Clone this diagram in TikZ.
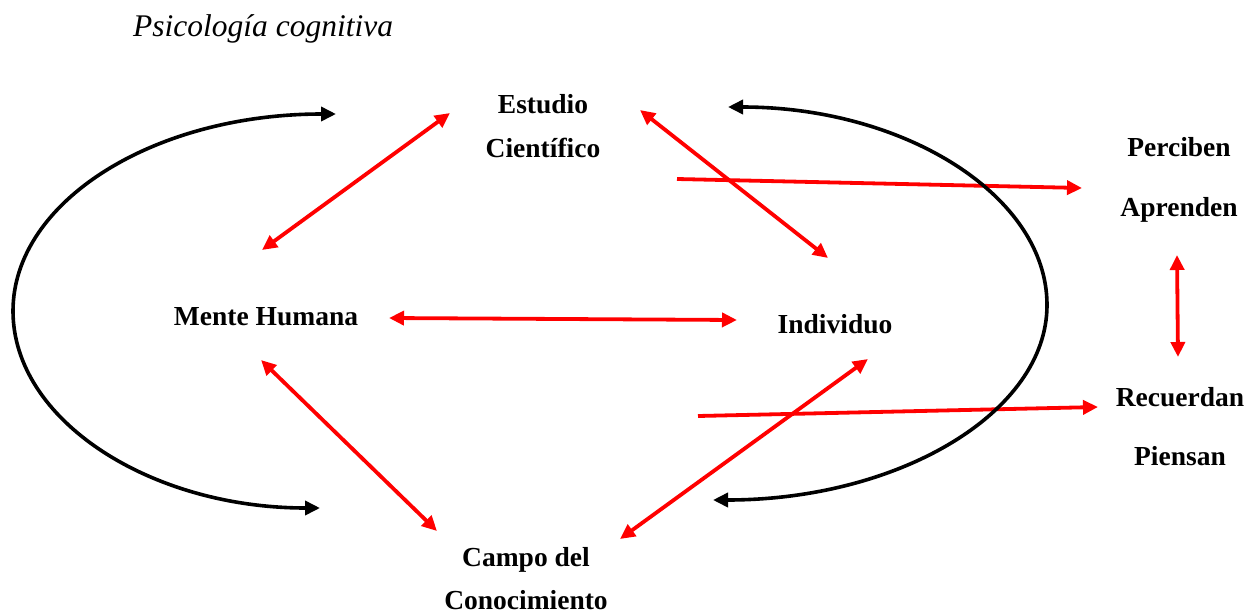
\documentclass[tikz,border=0pt]{standalone}
\usepackage{fontspec}
\setmainfont{Liberation Serif}
\usetikzlibrary{arrows.meta}
\begin{document}
\begin{tikzpicture}[x=1pt,y=-1pt,
  lbl/.style={inner sep=0pt,anchor=base,font=\fontsize{27.5}{31}\selectfont\bfseries},
  tip/.style={},
  redarrow/.style={draw=red,line width=3.8pt,{Triangle[length=15pt,width=14pt]}-{Triangle[length=15pt,width=14pt]}},
  redone/.style={draw=red,line width=3.8pt,-{Triangle[length=15pt,width=14pt]}},
  blackarrow/.style={draw=black,line width=3.6pt,{Triangle[length=15pt,width=14pt]}-{Triangle[length=15pt,width=14pt]}}]
\useasboundingbox (0,0) rectangle (1257,613);
\fill[white] (0,0) rectangle (1257,613);
% title
\node[inner sep=0pt,anchor=base west,font=\fontsize{31.5}{35}\selectfont\itshape] (title) at (133,36) {Psicología cognitiva};
% labels
\node[lbl] (est1) at (543,113) {Estudio};
\node[lbl] (est2) at (543,157) {Científico};
\node[lbl] (mente) at (266,325) {Mente Humana};
\node[lbl] (indiv) at (835,333) {Individuo};
\node[lbl] (perc) at (1179,156) {Perciben};
\node[lbl] (apre) at (1179,216) {Aprenden};
\node[lbl] (recu) at (1180,406) {Recuerdan};
\node[lbl] (pien) at (1180,465) {Piensan};
\node[lbl] (campo1) at (526,566) {Campo del};
\node[lbl] (campo2) at (526,609) {Conocimiento};
% arrow end coordinates
\coordinate (a1) at (262,250); \coordinate (b1) at (450,113);
\coordinate (a2) at (640,110); \coordinate (b2) at (828,258);
\coordinate (a3) at (389,318); \coordinate (b3) at (737,320);
\coordinate (a4) at (261,360); \coordinate (b4) at (437,531);
\coordinate (a5) at (620,539); \coordinate (b5) at (868,359);
\coordinate (a6) at (1177,255); \coordinate (b6) at (1178,357);
\coordinate (a7) at (677,179); \coordinate (b7) at (1082,188);
\coordinate (a8) at (698,416); \coordinate (b8) at (1098,407);
\coordinate (lt) at (336,114); \coordinate (ll) at (13,311); \coordinate (lb) at (320,508);
\coordinate (rt) at (728,107); \coordinate (rr) at (1047,305); \coordinate (rb) at (713,500);
% red arrows
\draw[redarrow] (a1) -- (b1);
\draw[redarrow] (a2) -- (b2);
\draw[redarrow] (a3) -- (b3);
\draw[redarrow] (a4) -- (b4);
\draw[redarrow] (a5) -- (b5);
\draw[redarrow] (a6) -- (b6);
\draw[redone] (a7) -- (b7);
\draw[redone] (a8) -- (b8);
% black curves
\draw[blackarrow] (lb) .. controls (150,508) and (13,420) .. (ll) .. controls (13,202) and (153,114) .. (lt);
\draw[blackarrow] (rt) .. controls (905,107) and (1047,196) .. (rr) .. controls (1047,413) and (898,500) .. (rb);
\end{tikzpicture}
\end{document}
